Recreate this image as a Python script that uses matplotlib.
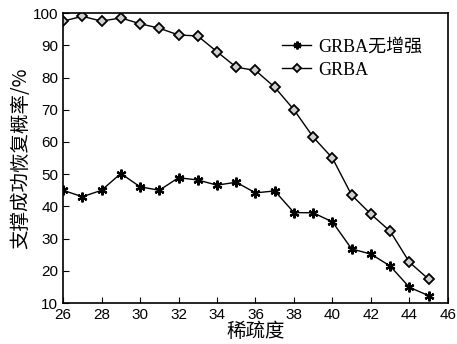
import matplotlib.pyplot as plt

# 数据
sparsity = list(range(26, 46))
grba_plain = [45, 43, 45, 50.2, 46.1, 45, 48.9, 48.2, 46.6, 47.5,
              44.2, 44.8, 38.1, 38, 35.2, 26.8, 25.2, 21.5, 14.9, 12.3]
grba = [97.5, 99, 97.5, 98.5, 96.7, 95.3, 93.2, 92.9, 88, 83.2,
        82.2, 77, 70, 61.5, 55, 43.5, 37.6, 32.3, 22.7, 17.4]
labels = ['GRBA无增强', 'GRBA']

fig = plt.figure(figsize=(4.57, 3.44), dpi=100)
ax = fig.add_axes([0.138, 0.119, 0.842, 0.843])

ax.plot(sparsity, grba_plain, color='black', lw=1, marker=(6, 2, 0),
        ms=7, mew=1.6, label=labels[0])
ax.plot(sparsity, grba, color='black', lw=1, marker='D', ms=5.5,
        mfc='#d0d0d0', mec='black', mew=1.3, label=labels[1])

ax.set_xlim(26, 46)
ax.set_ylim(10, 100)
ax.set_xticks(range(26, 47, 2))
ax.set_yticks(range(10, 101, 10))
ax.tick_params(direction='in', labelsize=11, length=4)
for t in ax.get_xticklabels() + ax.get_yticklabels():
    t.set_family('Liberation Sans')
for s in ax.spines.values():
    s.set_linewidth(1.2)

ax.set_xlabel('稀疏度', family=['Noto Sans CJK SC'], fontsize=14, labelpad=-1)
ax.set_ylabel('支撑成功恢复概率/%', family=['Noto Sans CJK SC'], fontsize=14, labelpad=1)

leg = ax.legend(loc='upper right', frameon=False, handlelength=1.6,
                prop={'family': ['Liberation Serif', 'Noto Sans CJK SC'], 'size': 13},
                borderaxespad=1.0, labelspacing=0.35, handletextpad=0.4,
                markerscale=0.8)

fig.savefig('out.png', dpi=100)
